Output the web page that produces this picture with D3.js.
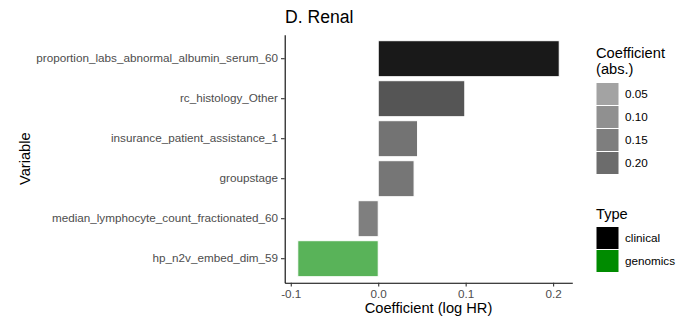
<!DOCTYPE html>
<html>
<head>
<meta charset="utf-8">
<script src="https://cdn.jsdelivr.net/npm/d3@7"></script>
<style>
  body { margin: 0; background: #fff; }
  svg { font-family: "Liberation Sans", Arial, Helvetica, sans-serif; }
</style>
</head>
<body>
<script>
//Chart values, top bar first
var variables = [
  "proportion_labs_abnormal_albumin_serum_60",
  "rc_histology_Other",
  "insurance_patient_assistance_1",
  "groupstage",
  "median_lymphocyte_count_fractionated_60",
  "hp_n2v_embed_dim_59"
];
var coefs = [0.207, 0.099, 0.045, 0.041, -0.023, -0.092];
var types = ["clinical", "clinical", "clinical", "clinical", "clinical", "genomics"];

var xTicks = [-0.1, 0.0, 0.1, 0.2];
var alphaBreaks = [0.05, 0.10, 0.15, 0.20];
var typeNames = ["clinical", "genomics"];
var typeColors = ["#000000", "#008b00"];

//Width and height
var w = 690;
var h = 322;
var panel = {left: 284.7, right: 572.3, top: 34.7, bottom: 282.7};

var svg = d3.select("body")
            .append("svg")
            .attr("width", w)
            .attr("height", h);

//Scales
var rows = variables.map(function(v, i) {
  return {name: v, coef: coefs[i], type: types[i]};
});

var lo = Math.min(0, d3.min(coefs)), hi = Math.max(0, d3.max(coefs));
var pad = (hi - lo) * 0.05;
var x = d3.scaleLinear()
          .domain([lo - pad, hi + pad])
          .range([panel.left, panel.right]);

var y = d3.scaleBand()
          .domain(variables)
          .range([panel.top, panel.bottom])
          .paddingInner(0.1)
          .paddingOuter(0.15);

var alpha = d3.scaleLinear()
              .domain([d3.min(coefs, function(d) { return Math.abs(d); }),
                       d3.max(coefs, function(d) { return Math.abs(d); })])
              .range([0.5, 0.9]);

var fill = d3.scaleOrdinal().domain(typeNames).range(typeColors);

//Bars
svg.append("g")
   .selectAll("rect")
   .data(rows)
   .enter()
   .append("rect")
   .attr("x", function(d) { return x(Math.min(0, d.coef)); })
   .attr("y", function(d) { return y(d.name); })
   .attr("width", function(d) { return Math.abs(x(d.coef) - x(0)); })
   .attr("height", y.bandwidth())
   .attr("fill", function(d) { return fill(d.type); })
   .attr("fill-opacity", function(d) { return alpha(Math.abs(d.coef)); })
   .attr("stroke", "#fff")
   .attr("stroke-width", 1);

//Axes (plain hyphen for negatives, like the original)
var fmt = function(d) { return d3.format(".1f")(d).replace("\u2212", "-"); };

var xAxis = svg.append("g")
   .attr("transform", "translate(0," + panel.bottom + ")")
   .call(d3.axisBottom(x).tickValues(xTicks).tickFormat(fmt)
           .tickSize(3.7).tickSizeOuter(0).tickPadding(3));

var yAxis = svg.append("g")
   .attr("transform", "translate(" + panel.left + ",0)")
   .call(d3.axisLeft(y).tickSize(3.7).tickSizeOuter(0).tickPadding(3));

[xAxis, yAxis].forEach(function(g) {
  g.select(".domain").attr("stroke", "#000").attr("stroke-width", 1.1);
  g.selectAll(".tick line").attr("stroke", "#333").attr("stroke-width", 1.1);
  g.selectAll(".tick text")
   .attr("fill", "#4d4d4d")
   .style("font-size", "11.7px")
   .style("font-family", "Liberation Sans, Arial, sans-serif");
});

//Titles
svg.append("text")
   .attr("x", 285)
   .attr("y", 22.5)
   .style("font-size", "17.6px")
   .text("D. Renal");

svg.append("text")
   .attr("x", (panel.left + panel.right) / 2)
   .attr("y", 312.5)
   .attr("text-anchor", "middle")
   .style("font-size", "14.67px")
   .text("Coefficient (log HR)");

svg.append("text")
   .attr("transform", "translate(29.5," + (panel.top + panel.bottom) / 2 + ") rotate(-90)")
   .attr("text-anchor", "middle")
   .style("font-size", "14.67px")
   .text("Variable");

//Legend: coefficient size as alpha
var legX = 596, keyS = 23;
var leg1 = svg.append("g");
leg1.append("text").attr("x", legX).attr("y", 57.5).style("font-size", "14.67px").text("Coefficient");
leg1.append("text").attr("x", legX).attr("y", 74).style("font-size", "14.67px").text("(abs.)");

var k1 = leg1.selectAll("g.key")
   .data(alphaBreaks)
   .enter()
   .append("g")
   .attr("transform", function(d, i) { return "translate(" + legX + "," + (82.5 + i * keyS) + ")"; });
k1.append("rect")
  .attr("width", keyS).attr("height", keyS)
  .attr("fill", "#595959")
  .attr("fill-opacity", function(d) { return alpha(d); })
  .attr("stroke", "#fff").attr("stroke-width", 1);
k1.append("text")
  .attr("x", keyS + 6).attr("y", keyS / 2 + 4)
  .style("font-size", "11.7px")
  .text(function(d) { return d3.format(".2f")(d); });

//Legend: type
var leg2 = svg.append("g");
leg2.append("text").attr("x", legX).attr("y", 218.5).style("font-size", "14.67px").text("Type");
var k2 = leg2.selectAll("g.key")
   .data(typeNames)
   .enter()
   .append("g")
   .attr("transform", function(d, i) { return "translate(" + legX + "," + (226.5 + i * keyS) + ")"; });
k2.append("rect")
  .attr("width", keyS).attr("height", keyS)
  .attr("fill", function(d) { return fill(d); })
  .attr("stroke", "#fff").attr("stroke-width", 1);
k2.append("text")
  .attr("x", keyS + 6).attr("y", keyS / 2 + 4)
  .style("font-size", "11.7px")
  .text(function(d) { return d; });
</script>
</body>
</html>
